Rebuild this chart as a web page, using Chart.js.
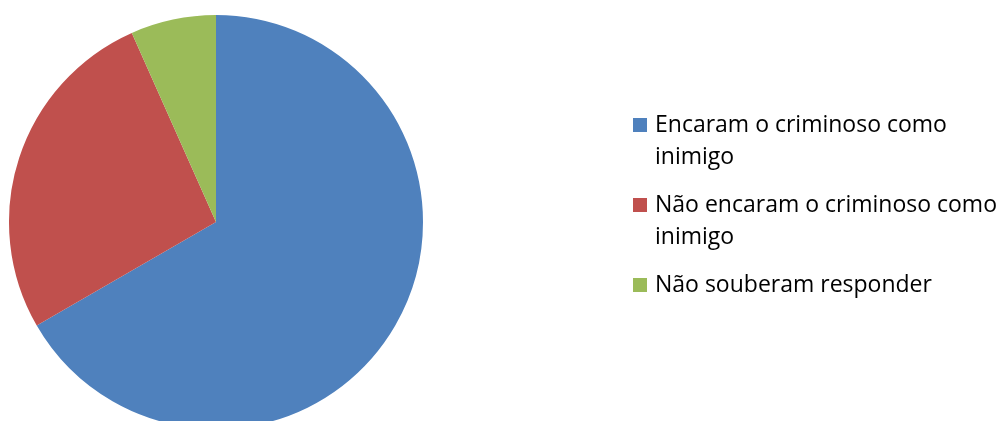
<!DOCTYPE html>
<html>
<head>
<meta charset="utf-8">
<script src="https://cdn.jsdelivr.net/npm/chart.js@4"></script>
<style>
  html, body { margin: 0; padding: 0; background: #fff; overflow: hidden; }
  #wrap { width: 1001px; height: 440px; }
</style>
</head>
<body>
<div id="wrap"><canvas id="pizza" width="1001" height="440"></canvas></div>
<script>
const categorias = ['Encaram o criminoso como inimigo', 'Não encaram o criminoso como inimigo', 'Não souberam responder'];
// linhas da legenda (quebra igual ao texto do gráfico)
const linhasLegenda = [
    ['Encaram o criminoso como', 'inimigo'],
    ['Não encaram o criminoso como', 'inimigo'],
    ['Não souberam responder']
];
const respostas = [20, 8, 2];
const cores = ['#4F81BD', '#C0504D', '#9BBB59'];

// legenda desenhada à direita da pizza
const legendaDireita = {
    id: 'legendaDireita',
    afterDraw(chart) {
        const ctx = chart.ctx;
        const cores = chart.data.datasets[0].backgroundColor;
        const x = 633;
        let y = 132;
        ctx.save();
        ctx.font = '23px "Open Sans"';
        ctx.textBaseline = 'alphabetic';
        linhasLegenda.forEach((linhas, i) => {
            ctx.fillStyle = cores[i];
            ctx.fillRect(x, y - 14, 14, 14);
            ctx.fillStyle = '#000';
            linhas.forEach((t, j) => {
                ctx.fillText(t, x + 22, y + j * 32);
            });
            y += (linhas.length - 1) * 32 + 48;
        });
        ctx.restore();
    }
};

const ctx = document.getElementById('pizza').getContext('2d');
new Chart(ctx, {
    type: 'pie',
    data: {
        labels: categorias,
        datasets: [{
            data: respostas,
            backgroundColor: cores,
            borderWidth: 0
        }]
    },
    options: {
        responsive: false,
        animation: false,
        layout: {
            padding: { left: 9, right: 578, top: 15, bottom: 11 }
        },
        plugins: {
            legend: { display: false },
            tooltip: { enabled: false }
        }
    },
    plugins: [legendaDireita]
});
</script>
</body>
</html>
